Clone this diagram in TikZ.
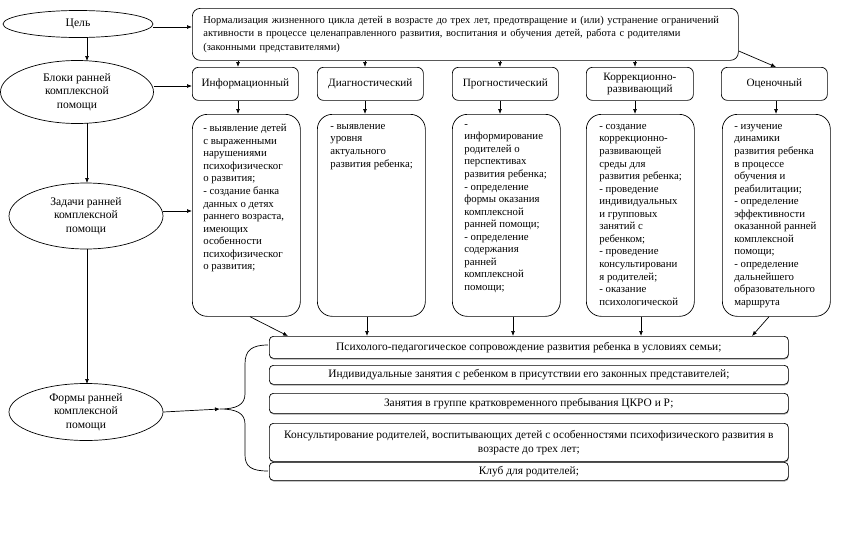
\documentclass[tikz,border=0pt]{standalone}
\usepackage{fontspec}
\setmainfont{Liberation Serif}
\usetikzlibrary{shapes.geometric,arrows.meta,shadows}
\begin{document}
\begin{tikzpicture}[x=1pt,y=-1pt,
  line width=0.7pt,
  ell/.style={draw, ellipse, inner sep=0pt, align=center, font=\fontsize{11.6pt}{13.5pt}\selectfont},
  rbox/.style={draw, rounded corners=6pt, inner sep=0pt, align=center, font=\fontsize{11.2pt}{12.5pt}\selectfont},
  goalbox/.style={draw, rounded corners=8pt, inner sep=0pt, align=left, font=\fontsize{10.5pt}{13.5pt}\selectfont},
  taskbox/.style={draw, rounded corners=15pt, inner sep=0pt, minimum width=108pt, minimum height=202pt, anchor=north west},
  tasktext/.style={inner sep=0pt, align=left, anchor=north west, font=\fontsize{10.8pt}{12.55pt}\selectfont},
  formbox/.style={draw, rounded corners=4pt, inner sep=0pt, align=center, fill=white, minimum width=519pt, anchor=north west,
    font=\fontsize{11.4pt}{14pt}\selectfont,
    drop shadow={shadow xshift=0.4pt, shadow yshift=-1.2pt, fill=gray!70, opacity=1}},
  arr/.style={-{Latex[length=5pt,width=4pt]}}
]
\useasboundingbox (0,0) rectangle (846,538);

% ellipses
\node[ell, minimum width=150pt, minimum height=27pt] (cel) at (78,24) {Цель};
\node[ell, minimum width=153pt, minimum height=63pt] (blk) at (77,92) {Блоки ранней\\комплексной\\помощи};
\node[ell, minimum width=154pt, minimum height=66pt] (zad) at (86,216) {Задачи ранней\\комплексной\\помощи};
\node[ell, minimum width=154pt, minimum height=57pt] (frm) at (86,412) {Формы ранней\\комплексной\\помощи};

% goal box
\node[goalbox, anchor=north west, minimum width=546pt, minimum height=52pt, text width=524pt] (goal) at (192,8)
 {Нормализация жизненного цикла детей в возрасте до трех лет, предотвращение и (или) устранение ограничений\\ активности в процессе целенаправленного развития, воспитания и обучения детей, работа с родителями\\ (законными представителями)};

% block boxes
\node[rbox, anchor=north west, minimum width=106pt, minimum height=33pt] (b1) at (192,67) {Информационный};
\node[rbox, anchor=north west, minimum width=106pt, minimum height=33pt] (b2) at (317,67) {Диагностический};
\node[rbox, anchor=north west, minimum width=106pt, minimum height=33pt] (b3) at (452,67) {Прогностический};
\node[rbox, anchor=north west, minimum width=107pt, minimum height=33pt] (b4) at (586,67) {Коррекционно-\\развивающий};
\node[rbox, anchor=north west, minimum width=106pt, minimum height=33pt] (b5) at (721,67) {Оценочный};

% task boxes
\node[taskbox] (t1) at (192,114) {};
\node[taskbox] (t2) at (317,114) {};
\node[taskbox] (t3) at (452,114) {};
\node[taskbox] (t4) at (586,114) {};
\node[taskbox] (t5) at (722,114) {};

\node[tasktext] (tt1) at (203,124) {- выявление детей\\с выраженными\\нарушениями\\психофизическог\\о развития;\\- создание банка\\данных о детях\\раннего возраста,\\имеющих\\особенности\\психофизическог\\о развития;};
\node[tasktext] (tt2) at (330,124) {- выявление\\уровня\\актуального\\развития ребенка;};
\node[tasktext] (tt3) at (464,124) {-\\информирование\\родителей о\\перспективах\\развития ребенка;\\- определение\\формы оказания\\комплексной\\ранней помощи;\\- определение\\содержания\\ранней\\комплексной\\помощи;};
\node[tasktext] (tt4) at (599,124) {- создание\\коррекционно-\\развивающей\\среды для\\развития ребенка;\\- проведение\\индивидуальных\\и групповых\\занятий с\\ребенком;\\- проведение\\консультировани\\я родителей;\\- оказание\\психологической};
\node[tasktext] (tt5) at (734,124) {- изучение\\динамики\\развития ребенка\\в процессе\\обучения и\\реабилитации;\\- определение\\эффективности\\оказанной ранней\\комплексной\\помощи;\\- определение\\дальнейшего\\образовательного\\маршрута};

% form boxes
\node[formbox, minimum height=22pt] (f1) at (269,336) {Психолого-педагогическое сопровождение развития ребенка в условиях семьи;};
\node[formbox, minimum height=19pt] (f2) at (269,365) {Индивидуальные занятия с ребенком в присутствии его законных представителей;};
\node[formbox, minimum height=20pt] (f3) at (269,393) {Занятия в группе кратковременного пребывания ЦКРО и Р;};
\node[formbox, minimum height=38pt] (f4) at (269,423) {Консультирование родителей, воспитывающих детей с особенностями психофизического развития в\\возрасте до трех лет;};
\node[formbox, minimum height=18pt] (f5) at (269,462) {Клуб для родителей;};

% brace
\coordinate (brtop) at (268,345);
\coordinate (brbot) at (268,471);
\coordinate (brtip) at (220,409);
\draw (brtop) .. controls (252,345) and (245,350) .. (245,364) -- (245,394)
  .. controls (245,405) and (236,409) .. (brtip)
  .. controls (236,409) and (245,413) .. (245,424) -- (245,455)
  .. controls (245,467) and (252,471) .. (brbot);

% left column connectors
\draw[arr] (cel.east |- 0,27) -- (goal.west |- 0,27);
\draw[arr] (87,37) -- (87,61);
\draw[arr] (blk.east |- 0,86) -- (b1.west |- 0,86);
\draw[arr] (87,123) -- (87,183);
\draw[arr] (zad.east |- 0,211) -- (t1.west |- 0,211);
\draw[arr] (87,249) -- (87,384);
\draw[arr] (frm.east |- 0,412) -- (brtip);

% goal to blocks
\draw[arr] (goal.south -| 238,0) -- (b1.north -| 238,0);
\draw[arr] (goal.south -| 365,0) -- (b2.north -| 365,0);
\draw[arr] (goal.south -| 500,0) -- (b3.north -| 500,0);
\draw[arr] (goal.south -| 635,0) -- (b4.north -| 635,0);
\draw[arr] (goal.east |- 0,51) -- (b5.north -| 776,0);

% blocks to tasks
\draw[arr] (b1.south -| 238,0) -- (t1.north -| 238,0);
\draw[arr] (b2.south -| 365,0) -- (t2.north -| 365,0);
\draw[arr] (b3.south -| 500,0) -- (t3.north -| 500,0);
\draw[arr] (b4.south -| 635,0) -- (t4.north -| 635,0);
\draw[arr] (b5.south -| 776,0) -- (t5.north -| 776,0);

% tasks to forms
\draw[arr] (t1.south -| 250,0) -- (f1.north -| 288,0);
\draw[arr] (t2.south -| 367,0) -- (f1.north -| 367,0);
\draw[arr] (t3.south -| 513,0) -- (f1.north -| 513,0);
\draw[arr] (t4.south -| 641,0) -- (f1.north -| 641,0);
\draw[arr] (t5.south -| 769,0) -- (f1.north -| 752,0);
\end{tikzpicture}
\end{document}
